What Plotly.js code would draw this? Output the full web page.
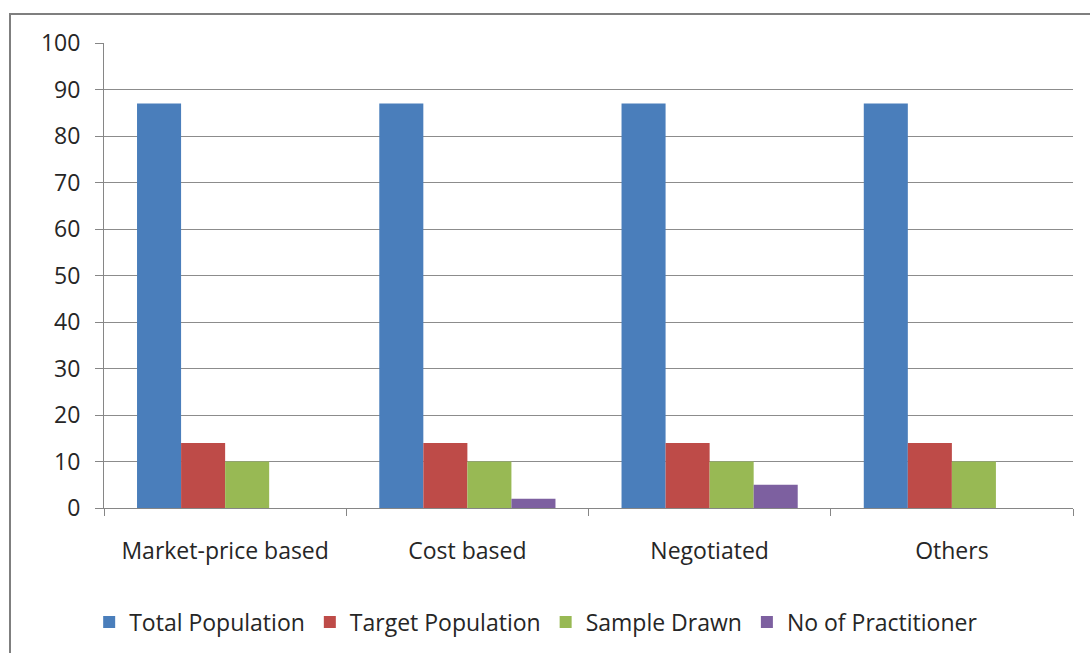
<!DOCTYPE html>
<html>
<head>
<meta charset="utf-8">
<script src="https://cdn.plot.ly/plotly-3.0.1.min.js"></script>
<style>
  html, body { margin: 0; padding: 0; background: #ffffff; }
  #wrap { position: relative; width: 1090px; height: 653px; overflow: hidden; }
  #frame { position: absolute; left: 9px; top: 13px; width: 1200px; height: 800px;
           border-left: 2px solid #7f7f7f; border-top: 2px solid #7f7f7f; pointer-events: none; }
  #chart { position: absolute; left: 0; top: 0; width: 1090px; height: 653px; }
</style>
</head>
<body>
<div id="wrap">
  <div id="chart"></div>
  <div id="frame"></div>
</div>
<script>
// Pricing methods and the survey counts for each
const categories = ['Market-price based', 'Cost based', 'Negotiated', 'Others'];
const totalPopulation = [87, 87, 87, 87];
const targetPopulation = [14, 14, 14, 14];
const sampleDrawn = [10, 10, 10, 10];
const practitioners = [0, 2, 5, 0];
const yTicks = [0, 10, 20, 30, 40, 50, 60, 70, 80, 90, 100];

const seriesDefs = [
  { name: 'Total Population', y: totalPopulation, color: '#4a7ebb' },
  { name: 'Target Population', y: targetPopulation, color: '#be4b48' },
  { name: 'Sample Drawn', y: sampleDrawn, color: '#98b954' },
  { name: 'No of Practitioner', y: practitioners, color: '#7d60a0' }
];

const traces = seriesDefs.map(s => ({
  type: 'bar',
  name: s.name,
  x: categories,
  y: s.y,
  marker: { color: s.color, line: { width: 0 } },
  hoverinfo: 'x+y+name'
}));

const font = { family: '"Open Sans", sans-serif', size: 23, color: '#262626' };

const layout = {
  width: 1090,
  height: 653,
  margin: { l: 104, r: 17, t: 43, b: 145, autoexpand: false },
  paper_bgcolor: '#ffffff',
  plot_bgcolor: '#ffffff',
  font: font,
  barmode: 'group',
  bargap: 0.2727,
  bargroupgap: 0,
  showlegend: true,
  legend: {
    orientation: 'h',
    x: 0.446, xanchor: 'center',
    y: -0.245, yanchor: 'middle',
    font: font,
    itemwidth: 30,
    traceorder: 'normal'
  },
  xaxis: {
    type: 'category',
    automargin: false,
    showgrid: false,
    showline: true,
    linecolor: '#868686',
    linewidth: 1,
    ticks: 'outside',
    tickson: 'boundaries',
    ticklen: 7,
    tickcolor: '#868686',
    tickfont: font,
    ticklabelstandoff: 22,
    fixedrange: true
  },
  yaxis: {
    range: [0, 100],
    automargin: false,
    tickvals: yTicks,
    ticktext: yTicks.map(String),
    showgrid: true,
    gridcolor: '#8c8c8c',
    gridwidth: 1,
    showline: true,
    linecolor: '#868686',
    linewidth: 1,
    ticks: 'outside',
    ticklen: 8,
    tickcolor: '#868686',
    tickfont: font,
    ticklabelstandoff: 10,
    zeroline: false,
    fixedrange: true
  }
};

Plotly.newPlot('chart', traces, layout, { displayModeBar: false, staticPlot: true });
</script>
</body>
</html>
